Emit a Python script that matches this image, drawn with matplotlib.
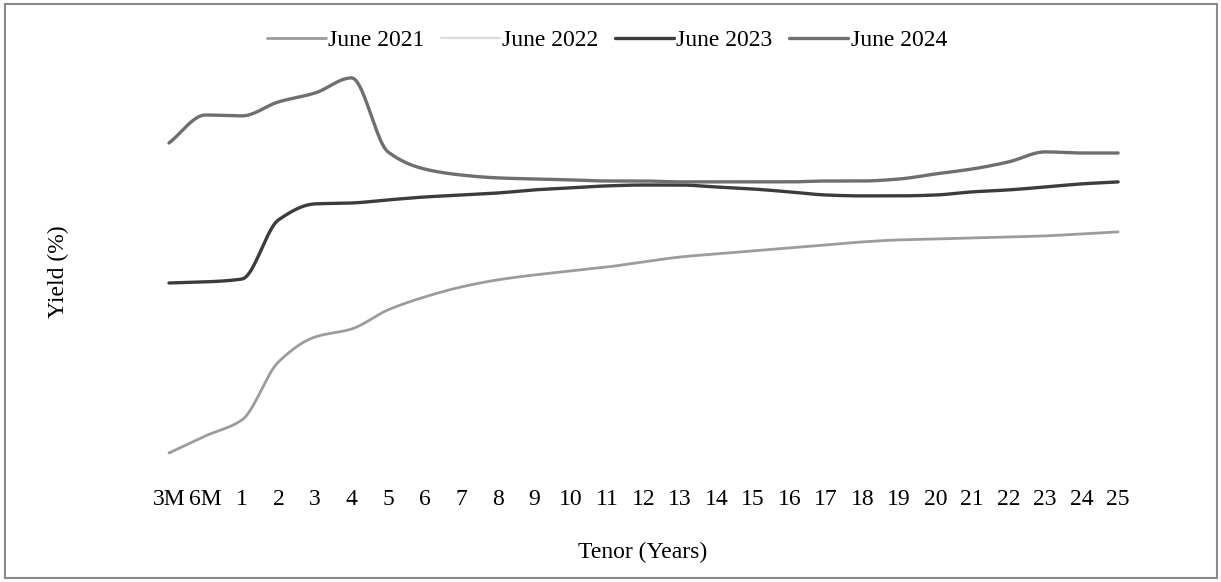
import numpy as np
import matplotlib
matplotlib.use('Agg')
import matplotlib.pyplot as plt
from matplotlib.patches import Rectangle

# tenors on a category axis
tenors = ['3M', '6M'] + [str(t) for t in range(1, 26)]

# yields (%)
june_2021 = [2.50, 3.27, 3.99, 6.60, 7.72, 8.08, 8.94, 9.52, 9.97, 10.29, 10.51, 10.69,
             10.87, 11.10, 11.32, 11.46, 11.59, 11.73, 11.86, 12.00, 12.09, 12.13, 12.18,
             12.22, 12.27, 12.36, 12.45]
june_2022 = [np.nan] * 27   # line not visible in the scan
june_2023 = [10.15, 10.20, 10.33, 12.99, 13.71, 13.75, 13.89, 14.02, 14.11, 14.20, 14.34,
             14.43, 14.52, 14.56, 14.56, 14.47, 14.38, 14.25, 14.11, 14.07, 14.07, 14.11,
             14.25, 14.34, 14.47, 14.61, 14.70]
june_2024 = [16.45, 17.71, 17.67, 18.30, 18.70, 19.38, 16.05, 15.28, 15.01, 14.88, 14.83,
             14.79, 14.74, 14.74, 14.70, 14.70, 14.70, 14.70, 14.74, 14.74, 14.83, 15.06,
             15.28, 15.60, 16.05, 16.00, 16.00]


def smooth(y, n=24):
    # monotone cubic through the points (no overshoot on the flat parts)
    y = np.asarray(y, dtype=float)
    x = np.arange(len(y))
    if np.all(np.isnan(y)):
        return x, y
    d = np.diff(y)
    m = np.zeros_like(y)
    m[0], m[-1] = d[0], d[-1]
    for i in range(1, len(y) - 1):
        if d[i - 1] * d[i] > 0:
            m[i] = 2 / (1 / d[i - 1] + 1 / d[i])
    xs, ys = [], []
    for i in range(len(y) - 1):
        t = np.linspace(0, 1, n, endpoint=False)
        h00 = 2 * t**3 - 3 * t**2 + 1
        h10 = t**3 - 2 * t**2 + t
        h01 = -2 * t**3 + 3 * t**2
        h11 = t**3 - t**2
        xs.append(x[i] + t)
        ys.append(h00 * y[i] + h10 * m[i] + h01 * y[i + 1] + h11 * m[i + 1])
    xs.append([x[-1]])
    ys.append([y[-1]])
    return np.concatenate(xs), np.concatenate(ys)


plt.rcParams['font.family'] = ['Liberation Serif', 'DejaVu Serif']

fig = plt.figure(figsize=(12.21, 5.82), dpi=100)
ax = fig.add_axes([150 / 1221, 1 - 478 / 582, 986 / 1221, 413 / 582])

series = [
    ('June 2021', june_2021, '#9c9c9c', 2.0),
    ('June 2022', june_2022, '#dcdcdc', 1.6),
    ('June 2023', june_2023, '#3c3c3c', 2.4),
    ('June 2024', june_2024, '#6f6f6f', 2.4),
]
for name, vals, col, lw in series:
    xs, ys = smooth(vals)
    ax.plot(xs, ys, color=col, lw=lw, label=name, solid_capstyle='round')

ax.set_xlim(-0.52, 26.49)
ax.set_ylim(1.375, 19.96)
ax.set_xticks(range(len(tenors)))
ax.set_xticklabels(tenors, fontsize=17)
ax.set_yticks([])
ax.tick_params(axis='x', length=0, pad=8)
for s in ax.spines.values():
    s.set_visible(False)

ax.set_xlabel('Tenor (Years)', fontsize=17, labelpad=23)
ax.set_ylabel('Yield (%)', fontsize=17, labelpad=58)

fig.legend(loc='center', bbox_to_anchor=(0.497, 1 - 40 / 582), ncol=4, frameon=False,
           fontsize=17, handlelength=2.5, handletextpad=0.1, columnspacing=0.7)

# scanned page border
fig.patches.append(Rectangle((5 / 1221, 4 / 582), 1212 / 1221, 574 / 582,
                             transform=fig.transFigure, fill=False,
                             edgecolor='#8a8a8a', lw=1.5))

fig.savefig('out.png', dpi=100)
